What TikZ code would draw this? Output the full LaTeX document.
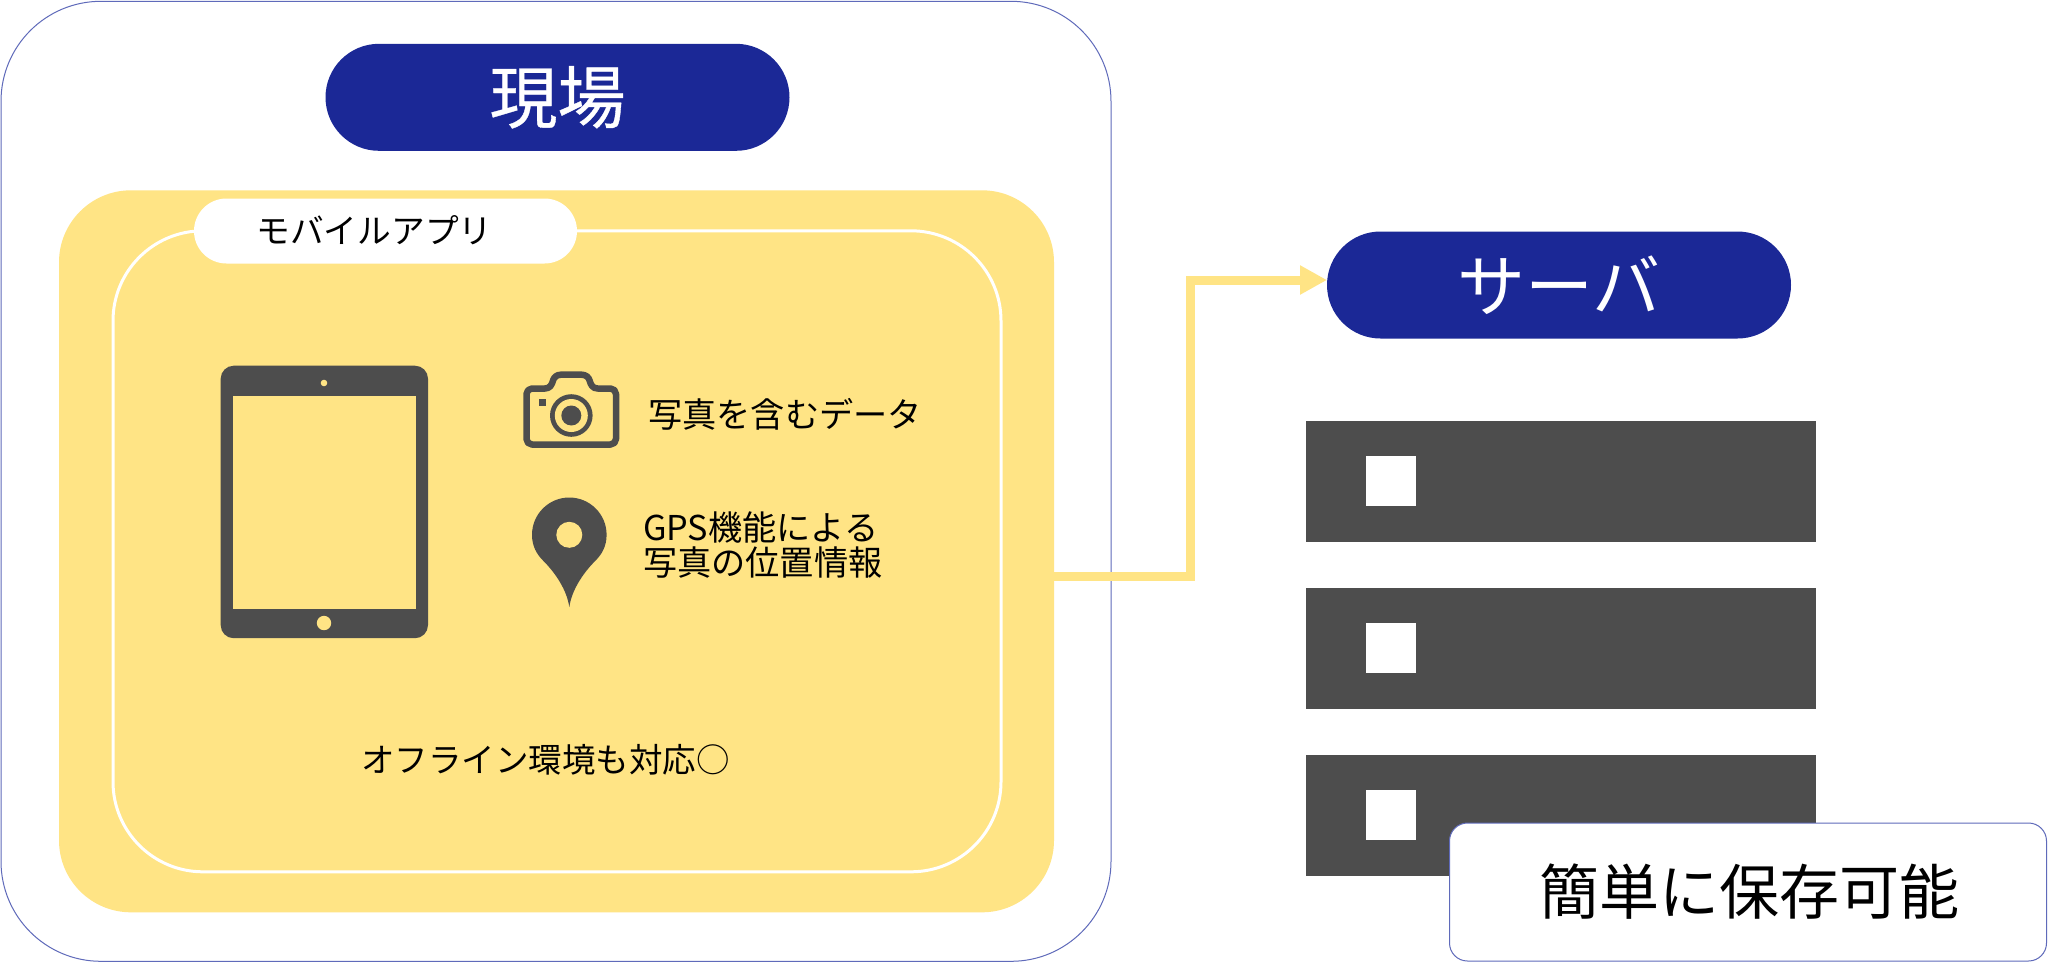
\documentclass[tikz,border=0pt]{standalone}
\usepackage{fontspec}
\setmainfont{Noto Sans CJK JP}
\newfontfamily\titlefont[FakeBold=0.5]{Noto Sans CJK JP}
\usetikzlibrary{arrows.meta}
\definecolor{navy}{HTML}{1B2896}
\definecolor{sun}{HTML}{FFE485}
\definecolor{slate}{HTML}{4D4D4D}
\definecolor{rim}{HTML}{5F6ABA}
\tikzset{
  panel/.style={rectangle,inner sep=0pt,outer sep=0pt},
  pill/.style={panel,fill=navy,text=white,rounded corners=53.5pt,minimum width=464pt,minimum height=107pt,font=\fontsize{68}{68}\selectfont},
  rack/.style={panel,fill=slate,minimum width=510pt,minimum height=121pt},
  led/.style={panel,fill=white,minimum width=50pt,minimum height=50pt},
  caption/.style={inner sep=0pt,outer sep=0pt,font=\fontsize{34.2}{35}\selectfont,text=black},
}
\begin{document}
\begin{tikzpicture}[x=1pt,y=-1pt]
\useasboundingbox (0,0) rectangle (2048,962);
\fill[white] (0,0) rectangle (2048,962);
\node[panel,draw=rim,line width=1pt,rounded corners=100pt,minimum width=1110pt,minimum height=960pt] (site) at (556,481.3) {};
\node[pill] (sitetitle) at (557.5,97.3) {\titlefont 現場};
\node[panel,fill=sun,rounded corners=72pt,minimum width=995pt,minimum height=722pt] (device) at (556.5,551.3) {};
\node[panel,draw=white,line width=3pt,rounded corners=90pt,minimum width=888pt,minimum height=641pt] (appframe) at (557,551.3) {};
\node[panel,fill=white,rounded corners=32.5pt,minimum width=383pt,minimum height=65pt] (applabel) at (385.5,231) {};
\node[caption,font=\fontsize{33.7}{35}\selectfont] (apptext) at (374.5,230.5) {モバイルアプリ};
% tablet
\fill[slate,rounded corners=13pt] (220.7,365.7) rectangle (428,638.2);
\fill[sun] (233.3,395.5) rectangle (416,608.5);
\fill[sun] (324,383) circle (3.3);
\fill[sun] (324,623) circle (7.2);
% camera
\draw[slate,line width=6.5pt,line join=round]
  (532,388.5) -- (545,388.5) .. controls (550,388.5) and (552,384.5) .. (553,380.5)
  .. controls (554,377) and (557,374.7) .. (561,374.7) -- (581.6,374.7)
  .. controls (585.6,374.7) and (588.6,377) .. (589.6,380.5)
  .. controls (590.6,384.5) and (592.6,388.5) .. (597.6,388.5)
  -- (610.5,388.5) .. controls (613.5,388.5) and (616,391) .. (616,394)
  -- (616,439) .. controls (616,442) and (613.5,444.5) .. (610.5,444.5)
  -- (532,444.5) .. controls (529,444.5) and (526.5,442) .. (526.5,439)
  -- (526.5,394) .. controls (526.5,391) and (529,388.5) .. (532,388.5) -- cycle;
\fill[slate] (571.3,415.5) circle (21.3);
\fill[sun] (571.3,415.5) circle (16.5);
\fill[slate] (571.3,415.5) circle (10);
\fill[slate] (539,399.2) rectangle (546,405.5);
% pin
\fill[slate] (569.3,607.2) .. controls (567,590.5) and (556,573.5) .. (543,560.5)
  .. controls (537,554.5) and (532,546.5) .. (532,534.8)
  .. controls (532,514.2) and (548.7,497.5) .. (569.3,497.5)
  .. controls (589.9,497.5) and (606.6,514.2) .. (606.6,534.8)
  .. controls (606.6,546.5) and (601.6,554.5) .. (595.6,560.5)
  .. controls (582.6,573.5) and (571.6,590.5) .. (569.3,607.2) -- cycle;
\fill[sun] (569.3,534.8) circle (13);
% captions
\node[caption] (phototext) at (785,414) {写真を含むデータ};
\node[caption,align=left] (gpstext) at (762.8,545) {GPS機能による\\写真の位置情報};
\node[caption,font=\fontsize{33.5}{35}\selectfont] (offline) at (545.3,760) {オフライン環境も対応○};
% server side
\node[pill] (server) at (1559,285) {サーバ};
\node[rack] (rackone) at (1561,481) {};
\node[rack] (racktwo) at (1561,648) {};
\node[rack] (rackthree) at (1561,815.3) {};
\node[led] (ledone) at (1390.5,481) {};
\node[led] (ledtwo) at (1390.5,648) {};
\node[led] (ledthree) at (1390.5,815) {};
\node[panel,fill=white,draw=rim,line width=1pt,rounded corners=18pt,minimum width=597pt,minimum height=138pt] (note) at (1748,892) {};
\node[inner sep=0pt,outer sep=0pt,font=\fontsize{60}{60}\selectfont] (notetext) at (1749,892) {簡単に保存可能};
% connector crosses over the frame line
\draw[sun,line width=9pt,-{Triangle[length=27pt,width=27.5pt]}]
  ([yshift=-25pt]device.east) -- ++(136.3,0) |- ([yshift=5pt]server.west);
\end{tikzpicture}
\end{document}
